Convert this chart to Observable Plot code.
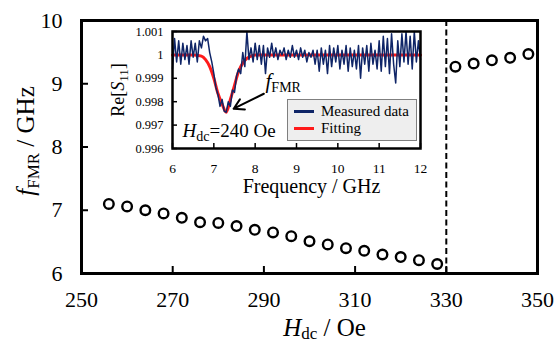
<!DOCTYPE html>
<html><head><meta charset="utf-8">
<script src="https://cdn.jsdelivr.net/npm/d3@7"></script>
<script src="https://cdn.jsdelivr.net/npm/@observablehq/plot@0.6"></script>
<style>
body{margin:0;background:#fff;}
#wrap{position:relative;width:554px;height:343px;font-family:"Liberation Serif","Times New Roman",serif;}
#wrap svg{position:absolute;overflow:visible;}
#wrap svg, #wrap svg text{font-family:"Liberation Serif","Times New Roman",serif !important;}
#legend{position:absolute;left:287px;top:99px;width:130px;height:42px;box-sizing:border-box;background:#eeeeee;border:1.5px solid #7f7f7f;font-size:15px;}
#legend .sw{position:absolute;left:6px;width:20px;height:3px;}
#legend .lb{position:absolute;left:33px;line-height:15px;}
</style></head><body><div id="wrap"></div>
<script>
// ---- main chart data ----
const hdcLow = [256,260,264,268,272,276,280,284,288,292,296,300,304,308,312,316,320,324,328];
const fLow = [7.10,7.06,7.00,6.95,6.88,6.81,6.80,6.75,6.69,6.65,6.59,6.51,6.46,6.40,6.36,6.30,6.26,6.21,6.15];
const hdcHigh = [332,336,340,344,348];
const fHigh = [9.27,9.32,9.37,9.41,9.47];
const transitionField = [330];
const xTicks = [250,270,290,310,330,350];
const yTicks = [6,7,8,9,10];

// ---- inset data ----
const freqMeasured = [6.00,6.05,6.10,6.15,6.20,6.25,6.30,6.35,6.40,6.45,6.50,6.55,6.60,6.65,6.70,6.75,6.80,6.85,6.90,6.95,
7.00,7.05,7.10,7.15,7.20,7.25,7.30,7.35,7.40,7.45,7.50,7.55,7.60,7.65,7.70,7.75,7.80,7.85,7.90,7.95,
8.00,8.05,8.10,8.15,8.20,8.25,8.30,8.35,8.40,8.45,8.50,8.55,8.60,8.65,8.70,8.75,8.80,8.85,8.90,8.95,
9.00,9.05,9.10,9.15,9.20,9.25,9.30,9.35,9.40,9.45,9.50,9.55,9.60,9.65,9.70,9.75,9.80,9.85,9.90,9.95,
10.00,10.05,10.10,10.15,10.20,10.25,10.30,10.35,10.40,10.45,10.50,10.55,10.60,10.65,10.70,10.75,10.80,10.85,10.90,10.95,
11.00,11.05,11.10,11.15,11.20,11.25,11.30,11.35,11.40,11.45,11.50,11.55,11.60,11.65,11.70,11.75,11.80,11.85,11.90,11.95,12.00];
const s11Measured = [0.9994,1.0007,0.9997,1.0006,0.9996,1.0005,0.9998,1.0004,0.9996,1.0006,0.9999,1.0005,0.9997,1.0006,1.0003,1.0008,1.0006,1.0007,1.0001,0.9997,
0.9992,0.9986,0.9983,0.9978,0.9981,0.9976,0.99755,0.9980,0.9978,0.9985,0.9984,0.9991,0.9994,0.9992,1.0001,0.9995,1.0010,0.9998,1.0003,0.9997,
1.0005,0.9998,1.0004,0.9996,1.0004,0.9992,1.0003,0.9999,1.0005,0.9999,1.0003,0.9998,1.0002,1.0000,1.0003,0.9998,1.0002,0.9999,1.0004,0.9999,
1.0002,0.9998,1.0003,0.9999,1.0002,0.9997,1.0001,0.9999,1.0002,0.9996,1.0002,0.9993,1.0003,0.9996,1.0002,0.9992,1.0004,0.9995,1.0003,0.9997,
1.0004,0.9994,1.0002,0.9996,1.0004,0.9993,1.0003,0.9995,1.0002,0.9994,1.0004,0.9990,1.0003,0.9996,1.0004,0.9993,1.0005,0.9996,1.0002,0.9994,
1.0006,0.9993,1.0008,0.9995,1.0007,0.9992,1.0009,0.9996,0.9988,1.0006,0.9995,1.0009,0.9997,1.0010,0.9996,1.0008,0.9994,1.0010,0.9997,1.0006,0.9998];
const freqFit = [6.0,6.5,6.7,6.8,6.9,7.0,7.1,7.2,7.3,7.4,7.5,7.6,7.7,7.8,7.9,8.0,9.0,10.0,11.0,12.0];
const s11Fit = [1.0,1.0,0.99995,0.9998,0.9995,0.9990,0.99835,0.9979,0.99755,0.9981,0.9987,0.9993,0.99965,0.99985,0.99995,1.0,1.0,1.0,1.0,1.0];
const insetXTicks = [6,7,8,9,10,11,12];
const insetYTicks = [0.996,0.997,0.998,0.999,1,1.001];
const arrowTail = [8.21, 0.99834];
const arrowHead = [7.48, 0.99770];

const serif = "Liberation Serif";
const wrap = document.getElementById("wrap");
const fmt = d => String(d);

const main = Plot.plot({
  width: 554, height: 343,
  marginLeft: 81, marginRight: 17, marginTop: 20, marginBottom: 70,
  style: {fontFamily: serif, color: "#000", background: "transparent", fontSize: "22px"},
  x: {domain: [250, 350]},
  y: {domain: [6, 10]},
  marks: [
    Plot.axisX(xTicks, {tickSize: -7, tickPadding: 25, fontSize: 22, fontFamily: serif, label: null, strokeWidth: 2, tickFormat: fmt}),
    Plot.axisY(yTicks, {tickSize: -7, tickPadding: 26, fontSize: 22, fontFamily: serif, label: null, strokeWidth: 2, tickFormat: fmt}),
    Plot.ruleX(transitionField, {x: d => d, stroke: "#000", strokeWidth: 2, strokeDasharray: "6,3.5"}),
    Plot.dot(fLow, {x: hdcLow, y: fLow, r: 4.8, stroke: "#000", strokeWidth: 2.4, fill: "#fff"}),
    Plot.dot(fHigh, {x: hdcHigh, y: fHigh, r: 4.8, stroke: "#000", strokeWidth: 2.4, fill: "#fff"}),
    Plot.frame({stroke: "#000", strokeWidth: 3}),
    Plot.text(["XLABEL"], {frameAnchor: "bottom", lineAnchor: "middle", textAnchor: "middle", dx: 15, dy: 54, fontSize: 25, fontFamily: serif}),
    Plot.text(["YLABEL"], {frameAnchor: "left", lineAnchor: "middle", textAnchor: "middle", dx: -56, dy: -6, rotate: -90, fontSize: 25, fontFamily: serif})
  ]
});
main.style.left = "0px"; main.style.top = "0px";
wrap.appendChild(main);

const inset = Plot.plot({
  width: 326, height: 172,
  marginLeft: 72, marginRight: 6, marginTop: 7, marginBottom: 48,
  style: {fontFamily: serif, color: "#000", background: "#fff", fontSize: "13px"},
  x: {domain: [6, 12]},
  y: {domain: [0.996, 1.001]},
  marks: [
    Plot.axisX(insetXTicks, {tickSize: -5, tickPadding: 20, fontSize: 13.5, fontFamily: serif, label: null, strokeWidth: 1.5, tickFormat: fmt}),
    Plot.axisY(insetYTicks, {tickSize: -5, tickPadding: 14, fontSize: 12.5, fontFamily: serif, label: null, strokeWidth: 1.5, tickFormat: fmt}),
    Plot.line(s11Fit, {x: freqFit, y: s11Fit, stroke: "#ff1a1a", strokeWidth: 3, curve: "monotone-x"}),
    Plot.line(s11Measured, {x: freqMeasured, y: s11Measured, stroke: "#0f2567", strokeWidth: 1.5}),
    Plot.arrow([0], {x1: () => arrowTail[0], y1: () => arrowTail[1], x2: () => arrowHead[0], y2: () => arrowHead[1], stroke: "#000", strokeWidth: 2, headLength: 9}),
    Plot.frame({stroke: "#000", strokeWidth: 2.5}),
    Plot.text(["INSETX"], {frameAnchor: "bottom", lineAnchor: "middle", textAnchor: "middle", dx: 15, dy: 38, fontSize: 20, fontFamily: serif}),
    Plot.text(["INSETY"], {frameAnchor: "left", lineAnchor: "middle", textAnchor: "middle", dx: -54, dy: 0, rotate: -90, fontSize: 18, fontFamily: serif}),
    Plot.text(["HDCNOTE"], {frameAnchor: "bottom-left", lineAnchor: "middle", textAnchor: "start", dx: 10, dy: -17.5, fontSize: 19, fontFamily: serif}),
    Plot.text(["FNOTE"], {frameAnchor: "top-left", lineAnchor: "middle", textAnchor: "start", dx: 93, dy: 50, fontSize: 21, fontFamily: serif})
  ]
});
inset.style.left = "100px"; inset.style.top = "24px";
wrap.appendChild(inset);

// rich text (italic + subscripts)
function rich(svg, key, parts) {
  d3.select(svg).selectAll("text").filter(function() { return this.textContent === key; }).each(function() {
    const t = d3.select(this);
    t.text(null);
    let shift = 0;
    parts.forEach(p => {
      const ts = t.append("tspan").text(p.t);
      if (p.i) ts.attr("font-style", "italic");
      const target = p.sub ? p.sub : 0;
      if (p.size) ts.attr("font-size", p.size);
      if (target !== shift) { ts.attr("dy", target - shift); shift = target; }
    });
  });
}
rich(main, "XLABEL", [{t: "H", i: true}, {t: "dc", size: 17, sub: 3.5}, {t: " / Oe"}]);
rich(main, "YLABEL", [{t: "f", i: true}, {t: "FMR", size: 17, sub: 5}, {t: " / GHz"}]);
rich(inset, "INSETX", [{t: "Frequency / GHz"}]);
rich(inset, "INSETY", [{t: "Re["}, {t: "S", i: true}, {t: "11", size: 13, sub: 4}, {t: "]"}]);
rich(inset, "HDCNOTE", [{t: "H", i: true}, {t: "dc", size: 14, sub: 4}, {t: "=240 Oe"}]);
rich(inset, "FNOTE", [{t: "f", i: true}, {t: "FMR", size: 14, sub: 4}]);

// legend
const legend = document.createElement("div");
legend.id = "legend";
legend.innerHTML = '<div class="sw" style="top:10px;background:#0f2567"></div><div class="lb" style="top:4px">Measured data</div>' +
  '<div class="sw" style="top:27px;background:#ff1a1a"></div><div class="lb" style="top:21px">Fitting</div>';
wrap.appendChild(legend);
</script></body></html>
